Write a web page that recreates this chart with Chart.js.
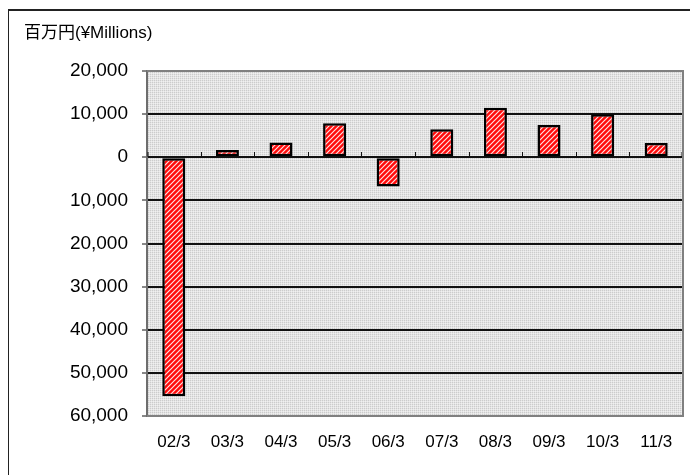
<!DOCTYPE html>
<html>
<head>
<meta charset="utf-8">
<script src="https://cdn.jsdelivr.net/npm/chart.js@4/dist/chart.umd.min.js"></script>
<style>
  html, body { margin: 0; padding: 0; background: #fff; }
  #wrap { position: relative; width: 690px; height: 475px; overflow: hidden; }
  #frame { position: absolute; left: 8px; top: 9px; width: 700px; height: 480px;
           border-left: 1px solid #222; border-top: 2px solid #222; }
  #chart { position: absolute; left: 0; top: 0; }
</style>
</head>
<body>
<div id="wrap">
  <div id="frame"></div>
  <canvas id="chart" width="690" height="475"></canvas>
</div>
<script>
// 年度別損益（百万円）
const years = ['02/3', '03/3', '04/3', '05/3', '06/3', '07/3', '08/3', '09/3', '10/3', '11/3'];
const profit = [-55400, 1700, 3400, 7900, -6800, 6500, 11500, 7500, 10000, 3300];
const yTicks = [20000, 10000, 0, -10000, -20000, -30000, -40000, -50000, -60000];
const unitLabel = '百万円(¥Millions)';

const FONT = '"Liberation Sans", Arial, "Noto Sans CJK JP", sans-serif';

// 赤地に白の斜線
function stripePattern() {
    const c = document.createElement('canvas');
    c.width = 5; c.height = 5;
    const g = c.getContext('2d');
    g.fillStyle = '#ff0a0a';
    g.fillRect(0, 0, 5, 5);
    g.strokeStyle = 'rgba(255,225,225,1)';
    g.lineWidth = 1.2;
    g.beginPath();
    g.moveTo(-1, 6); g.lineTo(6, -1);
    g.moveTo(-1, 1); g.lineTo(1, -1);
    g.moveTo(4, 6); g.lineTo(6, 4);
    g.stroke();
    return g.createPattern(c, 'repeat');
}

// 背景の網点
function dotPattern() {
    const c = document.createElement('canvas');
    c.width = 2; c.height = 2;
    const g = c.getContext('2d');
    g.fillStyle = '#e4e4e4';
    g.fillRect(0, 0, 2, 2);
    g.fillStyle = '#cccccc';
    g.fillRect(0, 0, 1, 1);
    g.fillStyle = '#f0f0f0';
    g.fillRect(1, 1, 1, 1);
    return g.createPattern(c, 'repeat');
}

const ctx = document.getElementById('chart').getContext('2d');
const bgFill = dotPattern();

const plotDecor = {
    id: 'plotDecor',
    beforeDraw(chart) {
        const a = chart.chartArea;
        const g = chart.ctx;
        g.save();
        g.fillStyle = bgFill;
        g.fillRect(a.left, a.top, a.right - a.left, a.bottom - a.top);
        g.restore();
    },
    afterDatasetsDraw(chart) {
        const a = chart.chartArea;
        const g = chart.ctx;
        const x = chart.scales.x;
        const y0 = Math.round(chart.scales.y.getPixelForValue(0));
        g.save();
        // ゼロ線上の目盛り（区切り位置）
        g.strokeStyle = '#111';
        g.lineWidth = 1;
        g.beginPath();
        for (let i = 0; i <= years.length; i++) {
            const px = i === 0 ? a.left + 1
                : i === years.length ? a.right - 1
                : Math.round((x.getPixelForValue(i - 1) + x.getPixelForValue(i)) / 2) + 0.5;
            g.moveTo(px, y0);
            g.lineTo(px, y0 - 5);
        }
        g.stroke();
        // 枠線（上・右・下）
        g.strokeStyle = '#808080';
        g.lineWidth = 2;
        g.beginPath();
        g.moveTo(a.left, a.top);
        g.lineTo(a.right, a.top);
        g.lineTo(a.right, a.bottom);
        g.lineTo(a.left, a.bottom);
        g.stroke();
        g.restore();
    },
    afterDraw(chart) {
        const g = chart.ctx;
        g.save();
        g.fillStyle = '#000';
        g.font = '17px ' + FONT;
        g.textBaseline = 'middle';
        g.fillText(unitLabel, 24, 33);
        g.restore();
    }
};

new Chart(ctx, {
    type: 'bar',
    data: {
        labels: years,
        datasets: [{
            data: profit,
            backgroundColor: stripePattern(),
            borderColor: '#000',
            borderWidth: 2.5,
            borderSkipped: false,
            barPercentage: 0.43,
            categoryPercentage: 1.0
        }]
    },
    options: {
        responsive: false,
        animation: false,
        events: [],
        layout: { padding: { top: 71, right: 7, bottom: 0, left: 0 } },
        plugins: {
            legend: { display: false },
            tooltip: { enabled: false },
            title: { display: false }
        },
        scales: {
            x: {
                offset: true,
                grid: { display: false, drawTicks: false },
                border: { display: false },
                ticks: {
                    color: '#000',
                    padding: 16,
                    font: { family: FONT, size: 17 },
                    maxRotation: 0
                },
                afterFit: s => { s.height = 59; }
            },
            y: {
                min: -60000,
                max: 20000,
                afterBuildTicks: s => { s.ticks = yTicks.map(v => ({ value: v })); },
                grid: {
                    color: c => (c.tick && (c.tick.value === 20000 || c.tick.value === -60000)) ? 'rgba(0,0,0,0)' : '#111',
                    lineWidth: 2,
                    drawTicks: true,
                    tickLength: 5,
                    tickColor: '#111',
                    tickWidth: 1
                },
                border: { display: true, color: '#6e6e6e', width: 2 },
                ticks: {
                    color: '#000',
                    padding: 14,
                    font: { family: FONT, size: 19 },
                    callback: v => Math.abs(v).toLocaleString('en-US')
                },
                afterFit: s => { s.width = 147; }
            }
        }
    },
    plugins: [plotDecor]
});
</script>
</body>
</html>
